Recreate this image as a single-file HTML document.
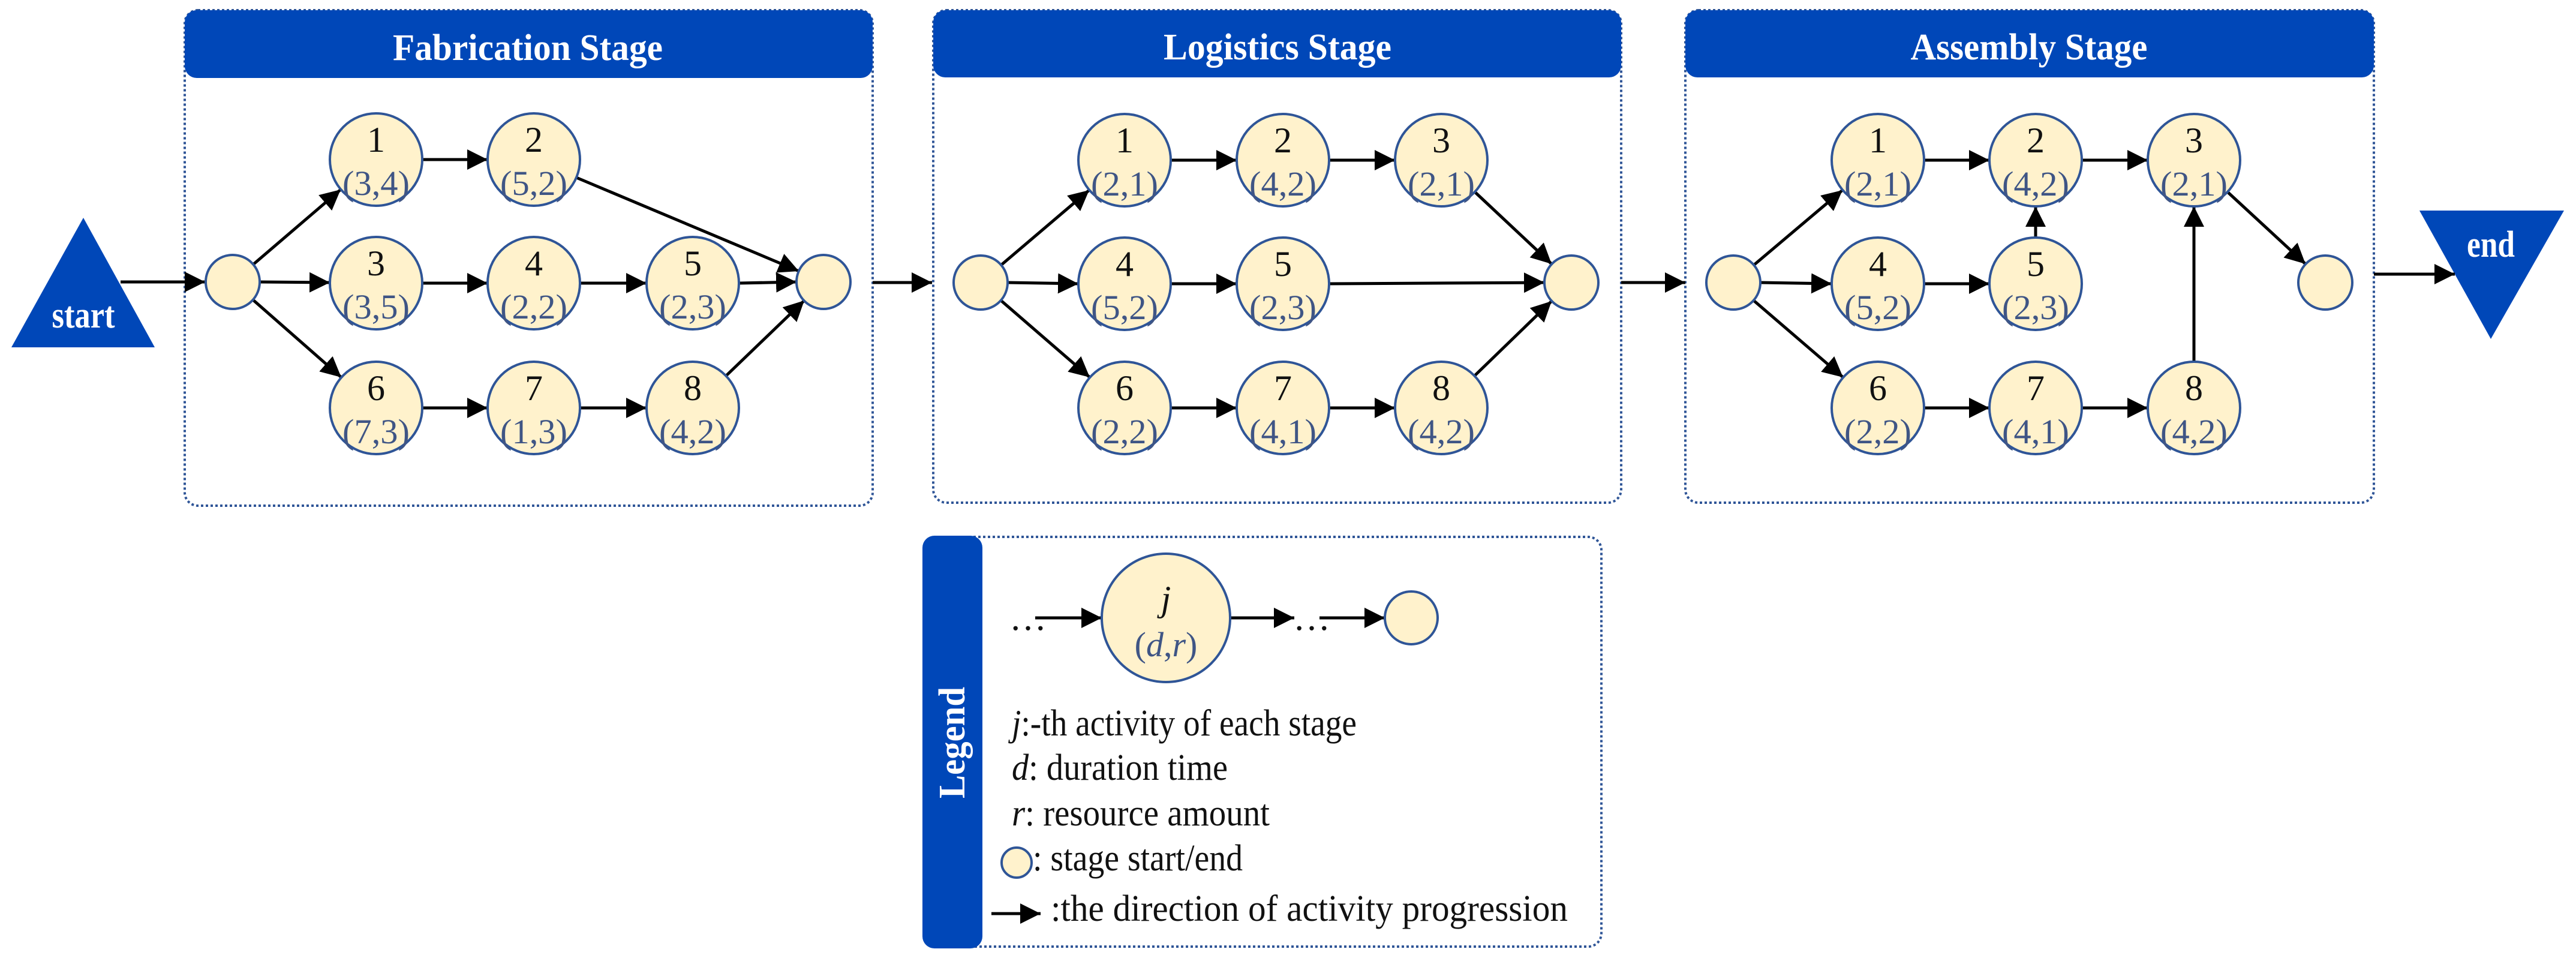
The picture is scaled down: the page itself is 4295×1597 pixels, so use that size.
<!DOCTYPE html>
<html><head><meta charset="utf-8"><style>
html,body{margin:0;padding:0;background:#fff;}
svg{display:block;}
text{font-family:"Liberation Serif",serif;}
.n{font-size:60px;fill:#111;text-anchor:middle;}
.p{font-size:58px;fill:#3f5585;text-anchor:middle;}
.h{font-size:62px;fill:#fff;font-weight:bold;text-anchor:middle;}
.l{font-size:62px;fill:#111;}
</style></head><body>
<svg width="4295" height="1597" viewBox="0 0 4295 1597" xmlns="http://www.w3.org/2000/svg">
<defs>
<marker id="a" markerUnits="userSpaceOnUse" markerWidth="36" markerHeight="34" refX="34" refY="17" orient="auto"><path d="M0,0 L34,17 L0,34 z" fill="#000"/></marker>
</defs>
<g fill="none" stroke="#2f5597" stroke-width="4" stroke-dasharray="4,4">
<rect x="308" y="17" width="1147" height="826" rx="22"/>
<rect x="1556" y="17" width="1147" height="821" rx="22"/>
<rect x="2810" y="17" width="1148" height="821" rx="22"/>
<rect x="1545" y="895" width="1125" height="683" rx="22"/>
</g>
<g fill="#0047b8">
<rect x="308" y="17" width="1147" height="113" rx="20"/>
<rect x="1556" y="17" width="1147" height="112" rx="20"/>
<rect x="2810" y="17" width="1148" height="112" rx="20"/>
<rect x="1538" y="893" width="100" height="688" rx="20"/>
<polygon points="139,363 258,579 19,579"/>
<polygon points="4034,351 4275,351 4153,565"/>
</g>
<text class="h" x="880" y="100" textLength="450" lengthAdjust="spacingAndGlyphs">Fabrication Stage</text>
<text class="h" x="2130" y="99" textLength="380" lengthAdjust="spacingAndGlyphs">Logistics Stage</text>
<text class="h" x="3383" y="99" textLength="395" lengthAdjust="spacingAndGlyphs">Assembly Stage</text>
<text class="h" x="139" y="546" font-size="54" textLength="105" lengthAdjust="spacingAndGlyphs">start</text>
<text class="h" x="4153" y="428" font-size="54" textLength="80" lengthAdjust="spacingAndGlyphs">end</text>
<text class="h" transform="translate(1608,1238) rotate(-90)" textLength="186" lengthAdjust="spacingAndGlyphs">Legend</text>

<g stroke="#000" stroke-width="5" marker-end="url(#a)">
<line x1="201" y1="470" x2="342" y2="470"/>
<line x1="422" y1="441" x2="568" y2="316"/>
<line x1="433" y1="470" x2="550" y2="471"/>
<line x1="422" y1="500" x2="569" y2="629"/>
<line x1="704" y1="266" x2="813" y2="266"/>
<line x1="704" y1="472" x2="813" y2="472"/>
<line x1="967" y1="472" x2="1078" y2="472"/>
<line x1="704" y1="680" x2="813" y2="680"/>
<line x1="967" y1="680" x2="1078" y2="680"/>
<line x1="961" y1="296" x2="1332" y2="452"/>
<line x1="1232" y1="472" x2="1328" y2="470"/>
<line x1="1210" y1="627" x2="1341" y2="501"/>
<line x1="1455" y1="471" x2="1554" y2="471"/>

<line x1="1669" y1="442" x2="1816" y2="317"/>
<line x1="1680" y1="471" x2="1798" y2="473"/>
<line x1="1669" y1="501" x2="1817" y2="629"/>
<line x1="1952" y1="267" x2="2062" y2="267"/>
<line x1="2216" y1="267" x2="2326" y2="267"/>
<line x1="2459" y1="320" x2="2587" y2="440"/>
<line x1="1952" y1="473" x2="2062" y2="473"/>
<line x1="2216" y1="473" x2="2575" y2="471"/>
<line x1="1952" y1="680" x2="2062" y2="680"/>
<line x1="2216" y1="680" x2="2326" y2="680"/>
<line x1="2459" y1="626" x2="2587" y2="502"/>
<line x1="2703" y1="471" x2="2810" y2="471"/>

<line x1="2924" y1="442" x2="3072" y2="317"/>
<line x1="2935" y1="471" x2="3054" y2="473"/>
<line x1="2924" y1="501" x2="3073" y2="629"/>
<line x1="3208" y1="267" x2="3317" y2="267"/>
<line x1="3471" y1="267" x2="3581" y2="267"/>
<line x1="3208" y1="473" x2="3317" y2="473"/>
<line x1="3394" y1="396" x2="3394" y2="344"/>
<line x1="3208" y1="680" x2="3317" y2="680"/>
<line x1="3471" y1="680" x2="3581" y2="680"/>
<line x1="3658" y1="603" x2="3658" y2="344"/>
<line x1="3714" y1="320" x2="3844" y2="440"/>
<line x1="3958" y1="457" x2="4093" y2="457"/>

<line x1="1726" y1="1030" x2="1837" y2="1030"/>
<line x1="2051" y1="1030" x2="2158" y2="1030"/>
<line x1="2200" y1="1030" x2="2309" y2="1030"/>
<line x1="1653" y1="1523" x2="1735" y2="1523"/>
</g>

<g fill="#fff2cc" stroke="#2f5597" stroke-width="4">
<circle cx="388" cy="470" r="45"/><circle cx="1373" cy="470" r="45"/>
<circle cx="1635" cy="471" r="45"/><circle cx="2620" cy="471" r="45"/>
<circle cx="2890" cy="471" r="45"/><circle cx="3877" cy="471" r="45"/>
<circle cx="627" cy="266" r="77"/><circle cx="890" cy="266" r="77"/>
<circle cx="627" cy="472" r="77"/><circle cx="890" cy="472" r="77"/><circle cx="1155" cy="472" r="77"/>
<circle cx="627" cy="680" r="77"/><circle cx="890" cy="680" r="77"/><circle cx="1155" cy="680" r="77"/>
<circle cx="1875" cy="267" r="77"/><circle cx="2139" cy="267" r="77"/><circle cx="2403" cy="267" r="77"/>
<circle cx="1875" cy="473" r="77"/><circle cx="2139" cy="473" r="77"/>
<circle cx="1875" cy="680" r="77"/><circle cx="2139" cy="680" r="77"/><circle cx="2403" cy="680" r="77"/>
<circle cx="3131" cy="267" r="77"/><circle cx="3394" cy="267" r="77"/><circle cx="3658" cy="267" r="77"/>
<circle cx="3131" cy="473" r="77"/><circle cx="3394" cy="473" r="77"/>
<circle cx="3131" cy="680" r="77"/><circle cx="3394" cy="680" r="77"/><circle cx="3658" cy="680" r="77"/>
<circle cx="1944" cy="1030" r="107"/><circle cx="2353" cy="1030" r="44"/>
<circle cx="1695" cy="1438" r="25"/>
</g>

<g>
<text class="n" x="627" y="253">1</text><text class="p" x="627" y="325" textLength="112" lengthAdjust="spacingAndGlyphs">(3,4)</text>
<text class="n" x="890" y="253">2</text><text class="p" x="890" y="325" textLength="112" lengthAdjust="spacingAndGlyphs">(5,2)</text>
<text class="n" x="627" y="459">3</text><text class="p" x="627" y="531" textLength="112" lengthAdjust="spacingAndGlyphs">(3,5)</text>
<text class="n" x="890" y="459">4</text><text class="p" x="890" y="531" textLength="112" lengthAdjust="spacingAndGlyphs">(2,2)</text>
<text class="n" x="1155" y="459">5</text><text class="p" x="1155" y="531" textLength="112" lengthAdjust="spacingAndGlyphs">(2,3)</text>
<text class="n" x="627" y="667">6</text><text class="p" x="627" y="739" textLength="112" lengthAdjust="spacingAndGlyphs">(7,3)</text>
<text class="n" x="890" y="667">7</text><text class="p" x="890" y="739" textLength="112" lengthAdjust="spacingAndGlyphs">(1,3)</text>
<text class="n" x="1155" y="667">8</text><text class="p" x="1155" y="739" textLength="112" lengthAdjust="spacingAndGlyphs">(4,2)</text>

<text class="n" x="1875" y="254">1</text><text class="p" x="1875" y="326" textLength="112" lengthAdjust="spacingAndGlyphs">(2,1)</text>
<text class="n" x="2139" y="254">2</text><text class="p" x="2139" y="326" textLength="112" lengthAdjust="spacingAndGlyphs">(4,2)</text>
<text class="n" x="2403" y="254">3</text><text class="p" x="2403" y="326" textLength="112" lengthAdjust="spacingAndGlyphs">(2,1)</text>
<text class="n" x="1875" y="460">4</text><text class="p" x="1875" y="532" textLength="112" lengthAdjust="spacingAndGlyphs">(5,2)</text>
<text class="n" x="2139" y="460">5</text><text class="p" x="2139" y="532" textLength="112" lengthAdjust="spacingAndGlyphs">(2,3)</text>
<text class="n" x="1875" y="667">6</text><text class="p" x="1875" y="739" textLength="112" lengthAdjust="spacingAndGlyphs">(2,2)</text>
<text class="n" x="2139" y="667">7</text><text class="p" x="2139" y="739" textLength="112" lengthAdjust="spacingAndGlyphs">(4,1)</text>
<text class="n" x="2403" y="667">8</text><text class="p" x="2403" y="739" textLength="112" lengthAdjust="spacingAndGlyphs">(4,2)</text>

<text class="n" x="3131" y="254">1</text><text class="p" x="3131" y="326" textLength="112" lengthAdjust="spacingAndGlyphs">(2,1)</text>
<text class="n" x="3394" y="254">2</text><text class="p" x="3394" y="326" textLength="112" lengthAdjust="spacingAndGlyphs">(4,2)</text>
<text class="n" x="3658" y="254">3</text><text class="p" x="3658" y="326" textLength="112" lengthAdjust="spacingAndGlyphs">(2,1)</text>
<text class="n" x="3131" y="460">4</text><text class="p" x="3131" y="532" textLength="112" lengthAdjust="spacingAndGlyphs">(5,2)</text>
<text class="n" x="3394" y="460">5</text><text class="p" x="3394" y="532" textLength="112" lengthAdjust="spacingAndGlyphs">(2,3)</text>
<text class="n" x="3131" y="667">6</text><text class="p" x="3131" y="739" textLength="112" lengthAdjust="spacingAndGlyphs">(2,2)</text>
<text class="n" x="3394" y="667">7</text><text class="p" x="3394" y="739" textLength="112" lengthAdjust="spacingAndGlyphs">(4,1)</text>
<text class="n" x="3658" y="667">8</text><text class="p" x="3658" y="739" textLength="112" lengthAdjust="spacingAndGlyphs">(4,2)</text>

<text class="n" x="1944" y="1018" font-style="italic">j</text>
<text class="p" x="1944" y="1094">(<tspan font-style="italic">d</tspan>,<tspan font-style="italic">r</tspan>)</text>
<text class="l" x="1683" y="1050">…</text>
<text class="l" x="2156" y="1050">…</text>

<text class="l" x="1687" y="1226" textLength="575" lengthAdjust="spacingAndGlyphs"><tspan font-style="italic">j</tspan>:-th activity of each stage</text>
<text class="l" x="1687" y="1300" textLength="360" lengthAdjust="spacingAndGlyphs"><tspan font-style="italic">d</tspan>: duration time</text>
<text class="l" x="1687" y="1376" textLength="430" lengthAdjust="spacingAndGlyphs"><tspan font-style="italic">r</tspan>: resource amount</text>
<text class="l" x="1722" y="1451" textLength="350" lengthAdjust="spacingAndGlyphs">: stage start/end</text>
<text class="l" x="1752" y="1535" textLength="862" lengthAdjust="spacingAndGlyphs">:the direction of activity progression</text>
</g>
</svg>
</body></html>
